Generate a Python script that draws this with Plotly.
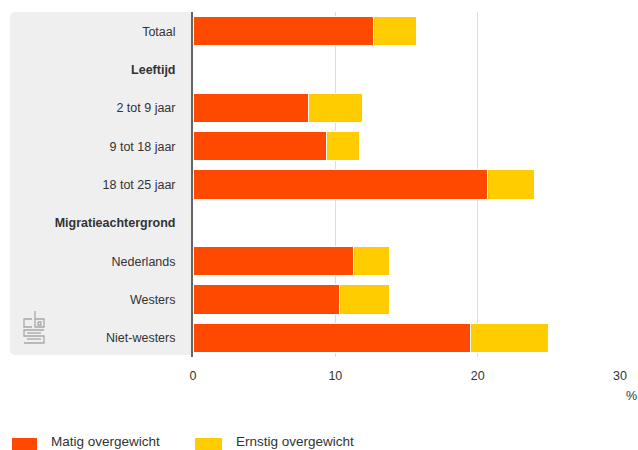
import plotly.graph_objects as go

categories = ["Totaal", "<b>Leeftijd</b>", "2 tot 9 jaar", "9 tot 18 jaar", "18 tot 25 jaar",
              "<b>Migratieachtergrond</b>", "Nederlands", "Westers", "Niet-westers"]
matig = [12.7, None, 8.1, 9.4, 20.7, None, 11.3, 10.3, 19.5]
ernstig = [3.0, None, 3.8, 2.3, 3.3, None, 2.5, 3.5, 5.5]
series_names = ["Matig overgewicht", "Ernstig overgewicht"]
colors = ["#FF4800", "#FFCC00"]
x_ticks = [0, 10, 20, 30]

W, H = 638, 450
L, R, T, B = 193, 620, 12, 357

def px(x):
    return (x - L) / (R - L)

def py(y):
    return (B - y) / (B - T)

fig = go.Figure()
for name, vals, col in zip(series_names, [matig, ernstig], colors):
    fig.add_trace(go.Bar(y=categories, x=vals, name=name, orientation="h",
                         marker=dict(color=col, line=dict(color="white", width=1)),
                         width=0.76, showlegend=False))

shapes = []
# gray label panel with rounded left corners
x0, x1, y0, y1, r = px(10), px(193), py(355), py(12), 6
rx = r / (R - L)
ry = r / (B - T)
shapes.append(dict(type="path", xref="paper", yref="paper", layer="below",
                   path=f"M {x1} {y1} L {x0+rx} {y1} Q {x0} {y1} {x0} {y1-ry} L {x0} {y0+ry} Q {x0} {y0} {x0+rx} {y0} L {x1} {y0} Z",
                   fillcolor="#EFEFEF", line=dict(width=0)))

# CBS logo
def P(pts):
    return "M " + " L ".join(f"{px(a)} {py(b)}" for a, b in pts)
logo_col = "#A8A8A8"
logo_paths = [
    [(32, 319), (24, 319), (24, 327), (32, 327)],            # c
    [(35, 311), (35, 327), (44, 327), (44, 319), (35, 319)],  # b
    [(38, 322), (41, 322), (41, 325), (38, 325), (38, 322)],  # b inner
    [(44, 330), (24, 330), (24, 336), (44, 336), (44, 343), (24, 343)],  # s
    [(41, 333), (27, 333)],
    [(27, 339), (41, 339)],
]
for p in logo_paths:
    shapes.append(dict(type="path", xref="paper", yref="paper", path=P(p),
                       line=dict(color=logo_col, width=1.3)))

# legend squares
shapes.append(dict(type="rect", xref="paper", yref="paper", x0=px(12), x1=px(37), y0=py(452), y1=py(438),
                   fillcolor=colors[0], line=dict(width=0)))
shapes.append(dict(type="rect", xref="paper", yref="paper", x0=px(195), x1=px(222), y0=py(452), y1=py(438),
                   fillcolor=colors[1], line=dict(width=0)))

annotations = [
    dict(text=series_names[0], xref="paper", yref="paper", x=px(49), y=py(441), xanchor="left", yanchor="middle",
         showarrow=False, font=dict(size=13.5, color="#333")),
    dict(text=series_names[1], xref="paper", yref="paper", x=px(234), y=py(441), xanchor="left", yanchor="middle",
         showarrow=False, font=dict(size=13.5, color="#333")),
    dict(text="%", xref="paper", yref="paper", x=px(624), y=py(396), xanchor="left", yanchor="middle",
         showarrow=False, font=dict(size=12.5, color="#333")),
]

fig.update_layout(
    width=W, height=H,
    margin=dict(l=L, r=W - R, t=T, b=H - B, pad=0),
    barmode="stack", bargap=0.24,
    paper_bgcolor="white", plot_bgcolor="rgba(0,0,0,0)",
    font=dict(family="Liberation Sans, Arial, sans-serif", size=12.5, color="#333"),
    shapes=shapes, annotations=annotations,
    xaxis=dict(range=[0, 30], tickvals=x_ticks, showgrid=True, gridcolor="#DDDDDD", gridwidth=1,
               zeroline=False, showline=False, ticks="", ticklabelstandoff=9,
               tickfont=dict(size=12.5, color="#333"), fixedrange=True),
    yaxis=dict(autorange="reversed", showline=True, linecolor="#666666", linewidth=2,
               ticks="", ticklabelstandoff=13, showgrid=False, zeroline=False,
               tickfont=dict(size=12.5, color="#333"), layer="above traces"),
)

fig.write_html("out.html")
